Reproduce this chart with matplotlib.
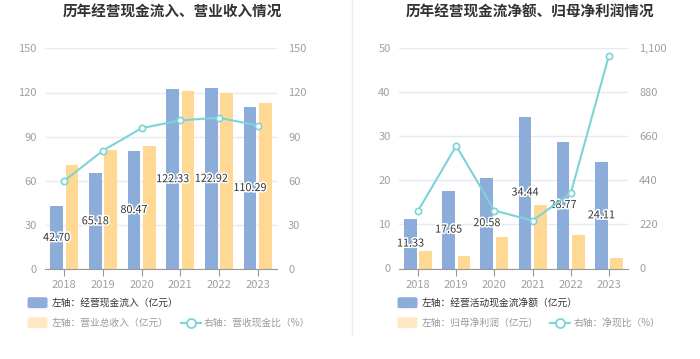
import numpy as np
import matplotlib
matplotlib.use('Agg')
import matplotlib.pyplot as plt
import matplotlib.patheffects as pe
from matplotlib.patches import FancyBboxPatch
from matplotlib.lines import Line2D

plt.rcParams['font.family'] = ['Noto Sans CJK SC', 'DejaVu Sans']

years = ['2018', '2019', '2020', '2021', '2022', '2023']

# left chart
cash_in = [42.70, 65.18, 80.47, 122.33, 122.92, 110.29]
revenue = [71.0, 80.9, 84.0, 121.0, 119.5, 113.0]
cash_ratio = [60.1, 80.6, 95.8, 101.1, 102.9, 97.6]

# right chart
net_cash = [11.33, 17.65, 20.58, 34.44, 28.77, 24.11]
net_profit = [3.9, 2.9, 7.1, 14.4, 7.65, 2.27]
net_ratio = [288, 612, 289, 239, 376, 1062]

BLUE = '#8CACDA'
ORANGE = '#FFD993'
ORANGE_LEG = '#FFE8C6'
CYAN = '#7ED3D8'
GRID = '#E6EAF2'
TICK = '#A0A0A0'

W, H = 700, 359
fig = plt.figure(figsize=(7, 3.59), dpi=100)


def px(x, y):
    return x / W, 1 - y / H


def draw_chart(rect, bars1, bars2, line, lmax, rmax, rticks, rfmt, title, title_x):
    ax = fig.add_axes(rect)
    x = np.arange(len(years))
    ax.bar(x - 0.2, bars1, width=0.33, color=BLUE, zorder=2)
    ax.bar(x + 0.2, bars2, width=0.33, color=ORANGE, zorder=2)
    ax.set_xlim(-0.5, 5.5)
    ax.set_ylim(0, lmax)
    ax.set_yticks(np.linspace(0, lmax, 6))
    ax.yaxis.grid(True, color=GRID, linewidth=1)
    ax.set_axisbelow(True)
    for s in ['top', 'right', 'left']:
        ax.spines[s].set_visible(False)
    ax.spines['bottom'].set_color('#999999')
    ax.set_xticks(x)
    ax.set_xticklabels(years)
    ax.tick_params(axis='x', length=5, color='#999999', labelcolor=TICK, labelsize=8, pad=3)
    ax.tick_params(axis='y', length=0, labelcolor=TICK, labelsize=8, pad=6)
    for xi, v in zip(x, bars1):
        ax.text(xi - 0.2, v / 2, f'{v:.2f}', ha='center', va='center', fontsize=7.8,
                color='#333333', zorder=5,
                path_effects=[pe.withStroke(linewidth=2.2, foreground='white')])

    ax2 = ax.twinx()
    ax2.set_ylim(0, rmax)
    ax2.set_yticks(rticks)
    ax2.set_yticklabels([rfmt(t) for t in rticks])
    ax2.tick_params(axis='y', length=0, labelcolor=TICK, labelsize=8, pad=8)
    for s in ['top', 'right', 'left', 'bottom']:
        ax2.spines[s].set_visible(False)
    ax2.plot(x, line, color=CYAN, linewidth=1.5, marker='o', markersize=4.5,
             markerfacecolor='white', markeredgecolor=CYAN, markeredgewidth=1.2, zorder=3)
    fig.text(*px(title_x, 12), title, ha='center', va='center', fontsize=10.5,
             fontweight='bold', color='#333333')
    return ax


def legend_patch(x0, y, color):
    bx, by = px(x0, y + 5.5)
    p = FancyBboxPatch((bx, by), 20 / W, 11 / H, boxstyle='round,pad=0,rounding_size=0.004',
                       transform=fig.transFigure, facecolor=color, edgecolor='none')
    fig.add_artist(p)


def legend_line(x0, y):
    xa, ya = px(x0, y)
    xb, _ = px(x0 + 20, y)
    fig.add_artist(Line2D([xa, xb], [ya, ya], transform=fig.transFigure, color=CYAN, linewidth=1.5))
    fig.add_artist(Line2D([(xa + xb) / 2], [ya], transform=fig.transFigure, marker='o',
                          markersize=6.5, markerfacecolor='white', markeredgecolor=CYAN,
                          markeredgewidth=1.3))


def legend_text(x0, y, s, color):
    fig.text(*px(x0, y), s, ha='left', va='center', fontsize=7, color=color)


# left chart
l0, b0 = px(45, 269.3)
draw_chart([l0, b0, 232 / W, 221 / H], cash_in, revenue, cash_ratio, 150, 150,
           [0, 30, 60, 90, 120, 150], lambda t: f'{t:.0f}', '历年经营现金流入、营业收入情况', 172)

legend_patch(27.5, 302.7, BLUE)
legend_text(52, 302.7, '左轴：经营现金流入（亿元）', '#333333')
legend_patch(27.5, 322.7, ORANGE_LEG)
legend_text(52, 322.7, '左轴：营业总收入（亿元）', '#999999')
legend_line(181, 322.7)
legend_text(204, 322.7, '右轴：营收现金比（%）', '#999999')

# right chart
l1, b1 = px(399, 268.5)
draw_chart([l1, b1, 229 / W, 220.5 / H], net_cash, net_profit, net_ratio, 50, 1100,
           [0, 220, 440, 660, 880, 1100], lambda t: f'{t:,.0f}', '历年经营现金流净额、归母净利润情况', 530)

legend_patch(397.5, 302.7, BLUE)
legend_text(422, 302.7, '左轴：经营活动现金流净额（亿元）', '#333333')
legend_patch(397.5, 322.7, ORANGE_LEG)
legend_text(422, 322.7, '左轴：归母净利润（亿元）', '#999999')
legend_line(550, 322.7)
legend_text(574, 322.7, '右轴：净现比（%）', '#999999')

# divider
xa, ya = px(351.5, 0)
_, yb = px(351.5, 335)
fig.add_artist(Line2D([xa, xa], [ya, yb], transform=fig.transFigure, color='#EFEFEF', linewidth=1))

fig.savefig('out.png', dpi=100)
